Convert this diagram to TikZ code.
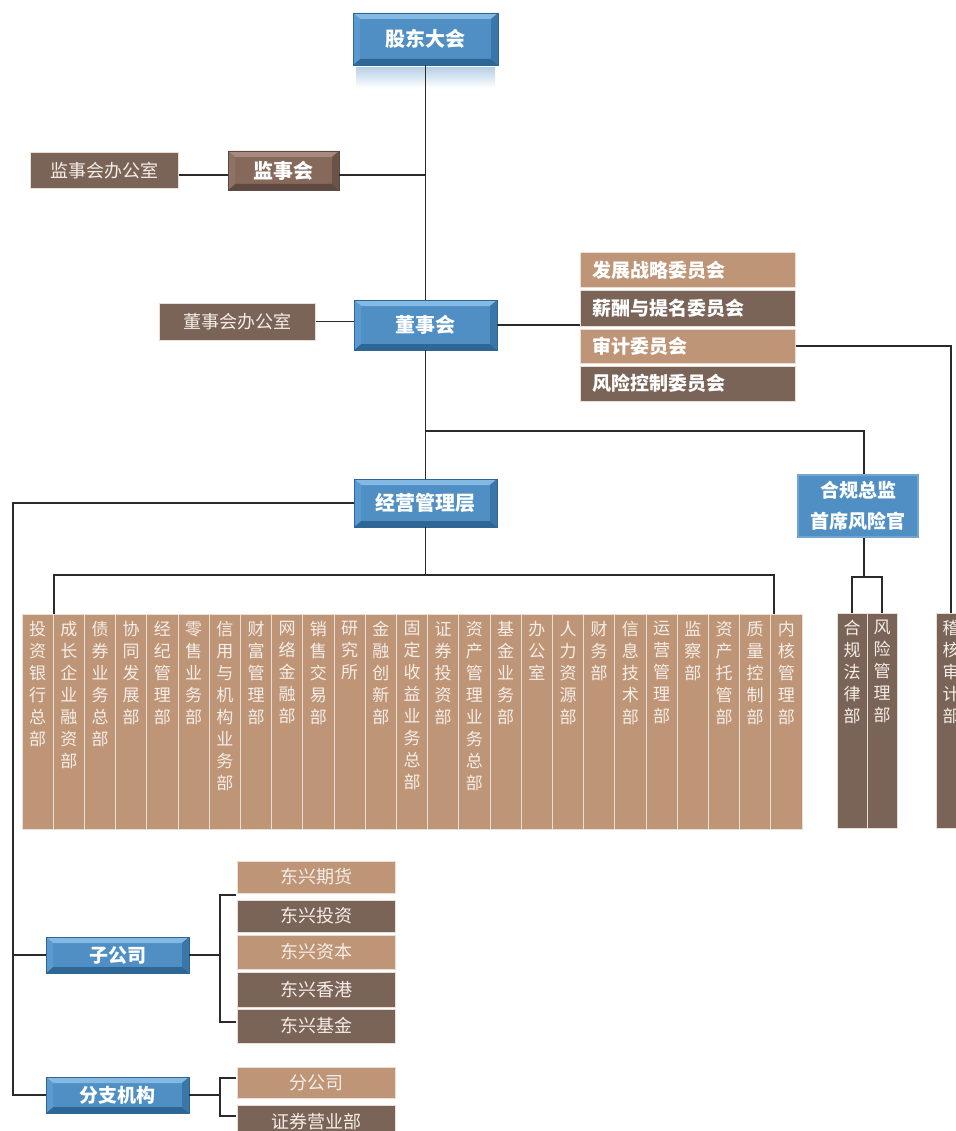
\documentclass[tikz,border=0pt]{standalone}
\usepackage{fontspec}
\setmainfont{Noto Sans CJK SC}
\usetikzlibrary{calc}
\ExplSyntaxOn
\NewDocumentCommand\vstk{m}{\exp_args:No \tl_map_inline:nn {#1} {##1\par}}
\ExplSyntaxOff
\newcommand\colt[1]{\parbox[c][200pt][t]{30pt}{\centering\vstk{#1}}}
\definecolor{bmain}{HTML}{4F8FC4}
\definecolor{blight}{HTML}{84B9E4}
\definecolor{bdark}{HTML}{2E6696}
\definecolor{bleft}{HTML}{5A9AD0}
\definecolor{bright}{HTML}{3A76A8}
\definecolor{lbrown}{HTML}{BF9577}
\definecolor{dbrown}{HTML}{7A6357}
\definecolor{mbrown}{HTML}{86695B}
\definecolor{mblight}{HTML}{A68A7B}
\definecolor{mbdark}{HTML}{5E4A40}
\definecolor{mbleft}{HTML}{8E7264}
\definecolor{mbright}{HTML}{6A544A}
\definecolor{coltext}{HTML}{F6EEE8}
\definecolor{colborder}{HTML}{EADFD7}
\definecolor{linec}{HTML}{2A2A2A}
\tikzset{
 bevel/.style n args={4}{path picture={
   \coordinate (bvnw) at (path picture bounding box.north west);
   \coordinate (bvne) at (path picture bounding box.north east);
   \coordinate (bvsw) at (path picture bounding box.south west);
   \coordinate (bvse) at (path picture bounding box.south east);
   \fill[#1] (bvnw) -- (bvne) -- ([shift={(-7pt,-6pt)}]bvne) -- ([shift={(7pt,-6pt)}]bvnw) -- cycle;
   \fill[#2] (bvsw) -- (bvse) -- ([shift={(-7pt,6pt)}]bvse) -- ([shift={(7pt,6pt)}]bvsw) -- cycle;
   \fill[#3] (bvnw) -- ([shift={(7pt,-6pt)}]bvnw) -- ([shift={(7pt,6pt)}]bvsw) -- (bvsw) -- cycle;
   \fill[#4] (bvne) -- ([shift={(-7pt,-6pt)}]bvne) -- ([shift={(-7pt,6pt)}]bvse) -- (bvse) -- cycle;
 }},
 bluebev/.style={fill=bmain, draw=bdark, line width=0.6pt, inner sep=0pt, text=white,
   font=\bfseries\fontsize{20}{24}\selectfont, bevel={blight}{bdark}{bleft}{bright}},
 brownbev/.style={fill=mbrown, draw=mbdark, line width=0.6pt, inner sep=0pt, text=white,
   font=\bfseries\fontsize{20}{24}\selectfont, bevel={mblight}{mbdark}{mbleft}{mbright}},
 flatbox/.style={draw=colborder, line width=1pt, inner sep=0pt, text=coltext,
   font=\fontsize{18}{22}\selectfont},
 combox/.style={draw=colborder, line width=1pt, inner xsep=12pt, inner ysep=0pt, text=white,
   text width=191pt, align=left, minimum height=35pt, font=\bfseries\fontsize{19}{22}\selectfont},
 colbox/.style={fill=lbrown, draw=colborder, line width=1pt, minimum width=31.2pt,
   minimum height=215pt, inner sep=0pt, text=coltext, font=\fontsize{17}{22}\selectfont},
 conn/.style={draw=linec, line width=1.3pt},
}
\begin{document}
\begin{tikzpicture}[x=1pt,y=-1pt]
\useasboundingbox (0,0) rectangle (955,1131);
\fill[white] (0,0) rectangle (955,1131);

% top level
\node[bluebev, minimum width=145pt, minimum height=52pt] (gd) at (425.5,39) {股东大会};
\fill[top color=bmain!40!white, bottom color=white] (356,68) rectangle (495,88);
\node[brownbev, minimum width=111pt, minimum height=39pt] (jsh) at (283.5,170.5) {监事会};
\node[flatbox, fill=dbrown, minimum width=148pt, minimum height=36pt] (jsb) at (104,170.5) {监事会办公室};
\node[bluebev, minimum width=143pt, minimum height=50pt] (dsh) at (425.5,325) {董事会};
\node[flatbox, fill=dbrown, minimum width=156pt, minimum height=37pt] (dsb) at (237,321.5) {董事会办公室};

% committees
\node[combox, fill=lbrown] (c1) at (687.5,270.5) {发展战略委员会};
\node[combox, fill=dbrown] (c2) at (687.5,308.5) {薪酬与提名委员会};
\node[combox, fill=lbrown, minimum height=34pt] (c3) at (687.5,346) {审计委员会};
\node[combox, fill=dbrown] (c4) at (687.5,383.5) {风险控制委员会};

% management
\node[bluebev, minimum width=143pt, minimum height=48pt] (jy) at (425.5,503) {经营管理层};
\node[fill=bmain, draw=bmain!80!white, line width=1.5pt, minimum width=120pt, minimum height=62pt,
  inner sep=0pt, text=white, align=center, font=\bfseries\fontsize{19}{31}\selectfont] (hg) at (858,506) {合规总监\\首席风险官};

% departments
\foreach \nm [count=\i] in {投资银行总部,成长企业融资部,债券业务总部,协同发展部,经纪管理部,零售业务部,信用与机构业务部,财富管理部,网络金融部,销售交易部,研究所,金融创新部,固定收益业务总部,证券投资部,资产管理业务总部,基金业务部,办公室,人力资源部,财务部,信息技术部,运营管理部,监察部,资产托管部,质量控制部,内核管理部}
  {\node[colbox] (d\i) at ({22+31.2*(\i-0.5)},721.5) {\colt{\nm}};}
\node[colbox, fill=dbrown, minimum width=30pt] (hl) at (852,720.5) {\colt{合规法律部}};
\node[colbox, fill=dbrown, minimum width=30pt] (fx) at (882,720.5) {\colt{风险管理部}};
\node[colbox, fill=dbrown, minimum width=30pt] (jh) at (951,720.5) {\colt{稽核审计部}};

% subsidiaries and branches
\node[bluebev, minimum width=143pt, minimum height=36pt, font=\bfseries\fontsize{19}{22}\selectfont] (zgs) at (117.5,955) {子公司};
\node[bluebev, minimum width=143pt, minimum height=36pt, font=\bfseries\fontsize{19}{22}\selectfont] (fz) at (117.5,1095) {分支机构};
\node[flatbox, fill=lbrown, minimum width=158pt, minimum height=32pt] (s1) at (316,877) {东兴期货};
\node[flatbox, fill=dbrown, minimum width=158pt, minimum height=32pt] (s2) at (316,916) {东兴投资};
\node[flatbox, fill=lbrown, minimum width=158pt, minimum height=34pt] (s3) at (316,952) {东兴资本};
\node[flatbox, fill=dbrown, minimum width=158pt, minimum height=35pt] (s4) at (316,989.5) {东兴香港};
\node[flatbox, fill=dbrown, minimum width=158pt, minimum height=34pt] (s5) at (316,1026) {东兴基金};
\node[flatbox, fill=lbrown, minimum width=158pt, minimum height=31pt] (b1) at (316,1082.5) {分公司};
\node[flatbox, fill=dbrown, minimum width=158pt, minimum height=34pt] (b2) at (316,1122) {证券营业部};

% connectors
\draw[conn] (gd.south) -- (dsh.north);
\draw[conn] ([yshift=-4.5pt]jsh.east) -- ([yshift=-4.5pt]jsh.east -| gd.south);
\draw[conn] ([yshift=-4.5pt]jsb.east) -- ([yshift=-4.5pt]jsh.west);
\draw[conn] (dsb.east) -- (dsb.east -| dsh.west);
\draw[conn] (dsh.east) -- (dsh.east -| c2.west);
\draw[conn] (dsh.south) -- (jy.north);
\coordinate (hgtop) at (864,431);
\draw[conn] (dsh.south |- hgtop) -- (hgtop) -- (hgtop |- hg.north);
\coordinate (hgbr) at (864,577);
\draw[conn] (hgtop |- hg.south) -- (hgbr);
\draw[conn] (hl.north) -- (hl.north |- hgbr) -- (fx.north |- hgbr) -- (fx.north);
\draw[conn] (c3.east) -- (c3.east -| jh.north) -- (jh.north);
\coordinate (dbl) at (54,575);
\coordinate (dbr) at (774,575);
\draw[conn] (jy.south) -- (jy.south |- dbl);
\draw[conn] (dbl |- d1.north) -- (dbl) -- (dbr) -- (dbr |- d25.north);
\coordinate (lv) at (13,505);
\draw[conn] (jy.west) -- (jy.west -| lv) -- (lv |- fz.west) -- (fz.west);
\draw[conn] (lv |- zgs.west) -- (zgs.west);
\coordinate (sb) at (220,958);
\draw[conn] (zgs.east) -- (zgs.east -| sb);
\coordinate (sbt) at (236,895);
\coordinate (sbb) at (236,1022);
\draw[conn] (sbt) -- (sbt -| sb) -- (sbb -| sb) -- (sbb);
\draw[conn] (fz.east) -- (fz.east -| sb);
\coordinate (bbt) at (236,1078);
\coordinate (bbb) at (236,1116);
\draw[conn] (bbt) -- (bbt -| sb) -- (bbb -| sb) -- (bbb);
\end{tikzpicture}
\end{document}
